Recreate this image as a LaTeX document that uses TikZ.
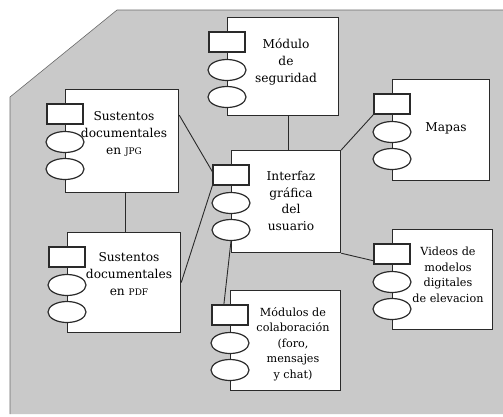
\documentclass[tikz,border=0pt]{standalone}
\usepackage{fontspec}
\setmainfont{DejaVu Serif}
\usetikzlibrary{positioning, shapes.geometric, calc}
\definecolor{cbg}{HTML}{C9C9C9}
\definecolor{cline}{HTML}{2A2A2A}
\tikzset{
  every picture/.style={line width=1pt},
  comp/.style={draw=cline, fill=white, line width=1.2pt, anchor=north west, inner sep=0pt},
  txt/.style={align=center, font=\fontsize{12.2}{16.8}\selectfont, inner sep=1pt},
  stxt/.style={txt, font=\fontsize{11.2}{15.6}\selectfont},
  tabr/.style={draw=cline, fill=white, line width=1.2pt, minimum width=36pt, minimum height=20pt, inner sep=0pt},
  tabe/.style={ellipse, draw=cline, fill=white, line width=1.2pt, minimum width=38pt, minimum height=21pt, inner sep=0pt},
  link/.style={draw=cline, line width=0.9pt},
}
\begin{document}
\begin{tikzpicture}[x=1pt, y=-1pt]
  \useasboundingbox (0,0) rectangle (503,416);
  % fondo
  \fill[cbg] (10,97) -- (117,10) -- (503,10) -- (503,414) -- (10,414) -- cycle;
  \draw[cline!70, line width=0.6pt] (10,414) -- (10,97) -- (117,10) -- (503,10);
  % componentes
  \node[comp, minimum width=111pt, minimum height=98pt] (seg) at (227,17) {};
  \node[comp, minimum width=113pt, minimum height=103pt] (jpg) at (65,89) {};
  \node[comp, minimum width=113pt, minimum height=100pt] (pdf) at (67,232) {};
  \node[comp, minimum width=109pt, minimum height=102pt] (gui) at (231,150) {};
  \node[comp, minimum width=97pt, minimum height=101pt] (map) at (392,79) {};
  \node[comp, minimum width=100pt, minimum height=100pt] (vid) at (392,229) {};
  \node[comp, minimum width=110pt, minimum height=100pt] (col) at (230,290) {};
  \foreach \n in {seg, jpg, pdf, gui, map, vid, col} {
    \node[tabr] (\n-r) at ([yshift=-25pt]\n.north west) {};
    \node[tabe] (\n-a) at ([yshift=-53pt]\n.north west) {};
    \node[tabe] (\n-b) at ([yshift=-80pt]\n.north west) {};
  }
  % textos
  \node[txt] (seg-t) at (286,62) {Módulo\\de\\seguridad};
  \node[txt] (jpg-t) at (124,134) {Sustentos\\documentales\\en {\small JPG}};
  \node[txt] (pdf-t) at (129,274) {Sustentos\\documentales\\en {\small PDF}};
  \node[txt] (gui-t) at (291,201) {Interfaz\\gráfica\\del\\usuario};
  \node[txt] (map-t) at (446,128) {Mapas};
  \node[stxt] (vid-t) at (448,275) {Videos de\\modelos\\digitales\\de elevacion};
  \node[stxt] (col-t) at (293,344) {Módulos de\\colaboración\\(foro,\\mensajes\\y chat)};
  % conexiones
  \draw[link] ([xshift=5pt]seg.south) -- ([xshift=5pt]seg.south |- gui.north);
  \draw[link] ($(jpg.north east)!0.25!(jpg.south east)$) -- (gui-r.170);
  \draw[link] ([xshift=3pt]jpg.south) -- ([xshift=3pt]jpg.south |- pdf.north);
  \draw[link] (pdf.east) -- (gui-r.south west);
  \draw[link] (gui-b.south) -- (col-r.120);
  \draw[link] (gui.north east) -- (map-r.south west);
  \draw[link] (gui.south east) -- (vid-r.200);
\end{tikzpicture}
\end{document}
